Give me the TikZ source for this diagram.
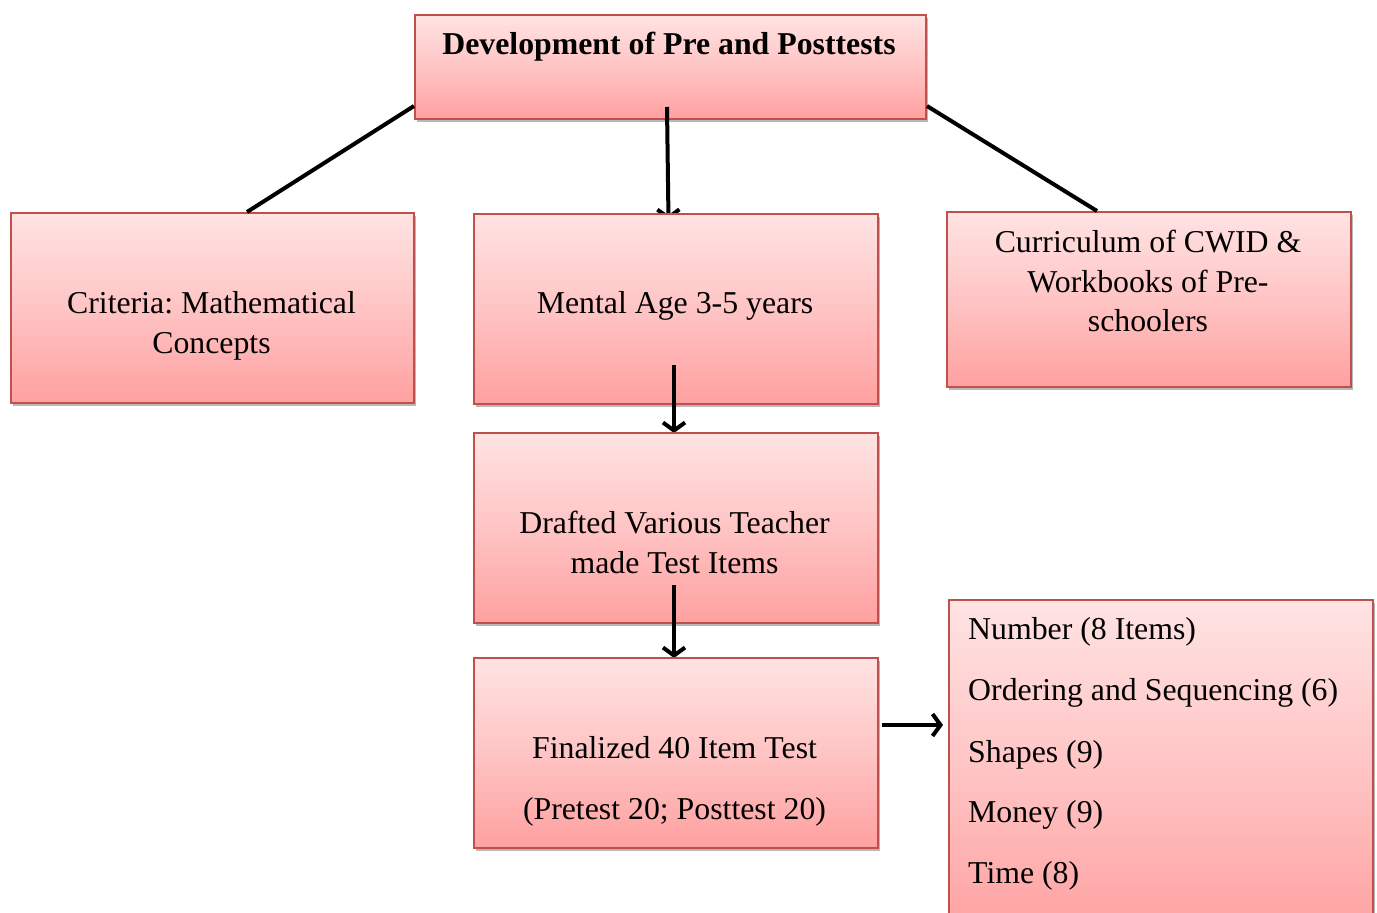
\documentclass[tikz,border=0pt]{standalone}
\usepackage{fontspec}
\setmainfont{Liberation Serif}
\frenchspacing
\usetikzlibrary{arrows.meta,shadows,calc}
\definecolor{pinktop}{RGB}{255,227,227}
\definecolor{pinkmid}{RGB}{255,196,196}
\definecolor{pinkbot}{RGB}{255,160,160}
\definecolor{boxline}{RGB}{192,80,77}
\begin{document}
\begin{tikzpicture}[x=1pt,y=-1pt,
  box/.style={draw=boxline, line width=2pt, top color=pinktop, bottom color=pinkbot, middle color=pinkmid,
    drop shadow={shadow xshift=1.5pt, shadow yshift=-3pt, fill=black, opacity=0.28},
    anchor=north west, inner sep=0pt},
  txt/.style={font=\fontsize{31.8}{39.5}\selectfont, anchor=base, inner sep=0pt},
  txtb/.style={font=\fontsize{31.8}{39.5}\selectfont\bfseries, anchor=base, inner sep=0pt},
  txtl/.style={font=\fontsize{31.8}{39.5}\selectfont, anchor=base west, inner sep=0pt},
  conn/.style={line width=4pt, black},
  arr/.style={conn, -{Straight Barb[length=8pt,width=22pt]}}]
\useasboundingbox (0,0) rectangle (1377,913);
\clip (0,0) rectangle (1377,913);

\node[box, minimum width=511pt, minimum height=104pt] (top) at (414,14) {};
\node[box, minimum width=403pt, minimum height=190pt] (crit) at (10,212) {};
\node[box, minimum width=404pt, minimum height=175pt] (curr) at (946,211) {};

\draw[conn] ([yshift=14pt]top.south west) -- ([xshift=237pt]crit.north west);
\draw[conn] ([yshift=14pt]top.south east) -- ([xshift=151pt]curr.north west);
\coordinate (m1) at ([xshift=-3.5pt,yshift=13pt]top.south);
\coordinate (m2) at (668.5,220);
\draw[arr] (m1) -- (m2);

\node[box, minimum width=404pt, minimum height=190pt] (mental) at (473,213) {};
\draw[arr] ([xshift=-2pt,yshift=40pt]mental.south) -- ([xshift=-2pt]mental.south |- 0,433);

\node[box, minimum width=404pt, minimum height=190pt] (draft) at (473,432) {};
\draw[arr] ([xshift=-2pt,yshift=39pt]draft.south) -- ([xshift=-2pt]draft.south |- 0,658);

\node[box, minimum width=404pt, minimum height=190pt] (final) at (473,657) {};
\node[box, minimum width=424pt, minimum height=340pt] (right) at (948,599) {};

\coordinate (a1) at ([xshift=3pt,yshift=28pt]final.east);
\draw[arr] (a1) -- ($(a1 -| right.west)+(-5,0)$);

\node[txtb] (t0) at (669,54) {Development of Pre and Posttests};
\node[txt] (t1a) at (211.5,313) {Criteria: Mathematical};
\node[txt] (t1b) at (211.5,353) {Concepts};
\node[txt] (t2) at (675,313) {Mental Age 3-5 years};
\node[txt] (t3a) at (1148,252) {Curriculum of CWID \&};
\node[txt] (t3b) at (1148,292) {Workbooks of Pre-};
\node[txt] (t3c) at (1148,331) {schoolers};
\node[txt] (t4a) at (674.5,533) {Drafted Various Teacher};
\node[txt] (t4b) at (674.5,573) {made Test Items};
\node[txt] (t5a) at (674.5,758) {Finalized 40 Item Test};
\node[txt] (t5b) at (674.5,819) {(Pretest 20; Posttest 20)};
\node[txtl] (r1) at (968,639) {Number (8 Items)};
\node[txtl] (r2) at (968,700) {Ordering and Sequencing (6)};
\node[txtl] (r3) at (968,762) {Shapes (9)};
\node[txtl] (r4) at (968,822) {Money (9)};
\node[txtl] (r5) at (968,883) {Time (8)};
\end{tikzpicture}
\end{document}
